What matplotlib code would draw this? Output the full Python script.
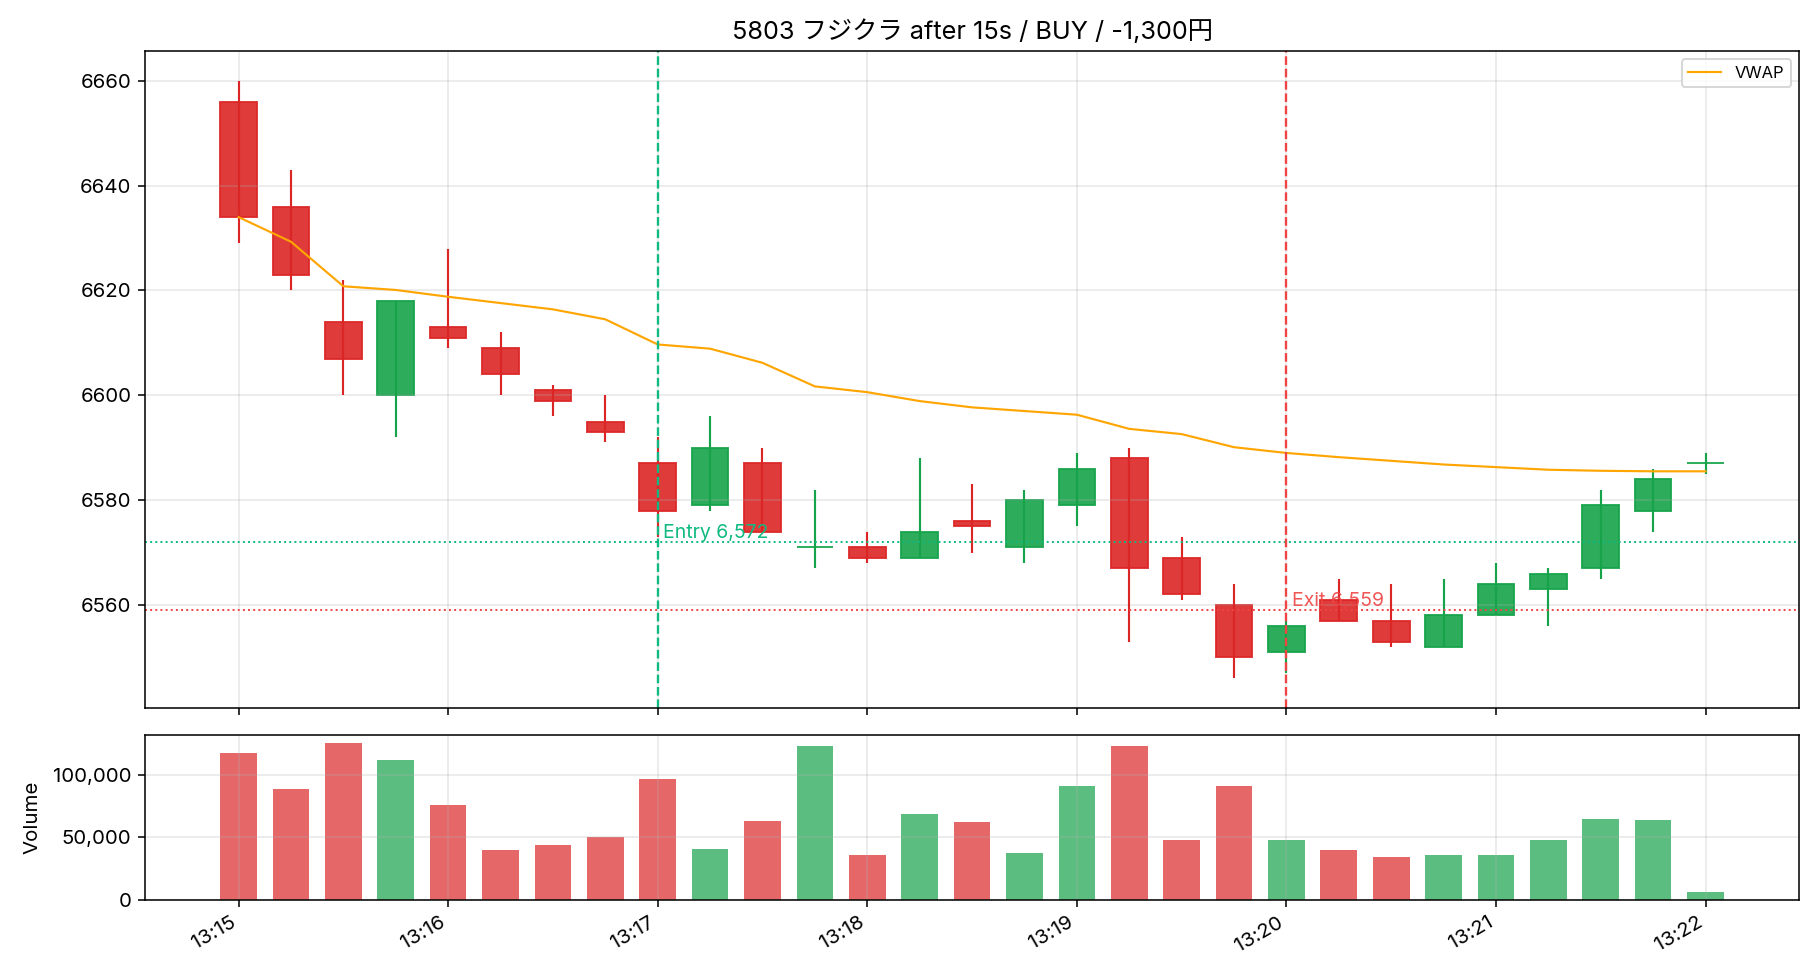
import matplotlib
matplotlib.use('Agg')
import matplotlib.pyplot as plt
import matplotlib.dates as mdates
from matplotlib.ticker import FuncFormatter
import numpy as np
import pandas as pd

plt.rcParams['font.family'] = ['Inter', 'Noto Sans CJK JP', 'DejaVu Sans']
plt.rcParams['xtick.labelsize'] = 10.5
plt.rcParams['ytick.labelsize'] = 10.5

# 15秒足
times = pd.date_range('2025-01-01 13:15:00', periods=29, freq='15s')
opens = [6656, 6636, 6614, 6600, 6613, 6609, 6601, 6595, 6587, 6579, 6587, 6571, 6571, 6569, 6576,
         6571, 6579, 6588, 6569, 6560, 6551, 6561, 6557, 6552, 6558, 6563, 6567, 6578, 6587]
highs = [6660, 6643, 6622, 6618, 6628, 6612, 6602, 6600, 6592, 6596, 6590, 6582, 6574, 6588, 6583,
         6582, 6589, 6590, 6573, 6564, 6557, 6565, 6564, 6565, 6568, 6567, 6582, 6586, 6589]
lows = [6629, 6620, 6600, 6592, 6609, 6600, 6596, 6591, 6573, 6578, 6574, 6567, 6568, 6569, 6570,
        6568, 6575, 6553, 6561, 6546, 6547, 6557, 6552, 6552, 6558, 6556, 6565, 6574, 6585]
closes = [6634, 6623, 6607, 6618, 6611, 6604, 6599, 6593, 6578, 6590, 6574, 6571, 6569, 6574, 6575,
          6580, 6586, 6567, 6562, 6550, 6556, 6557, 6553, 6558, 6564, 6566, 6579, 6584, 6587]
vwap = [6634.0, 6629.3, 6620.8, 6620.1, 6618.8, 6617.6, 6616.4, 6614.5, 6609.7, 6608.9, 6606.2,
        6601.7, 6600.6, 6598.9, 6597.7, 6597.0, 6596.3, 6593.6, 6592.6, 6590.1, 6589.0, 6588.2,
        6587.5, 6586.8, 6586.3, 6585.8, 6585.6, 6585.5, 6585.5]
volumes = [117800, 89400, 125900, 112200, 76500, 40000, 44000, 50500, 96800, 40800, 63500, 123500,
           35900, 69200, 62700, 37600, 91100, 123500, 48100, 91100, 48100, 40000, 34400, 36000,
           36000, 48100, 65100, 64300, 5900]

entry_time = pd.Timestamp('2025-01-01 13:17:00')
exit_time = pd.Timestamp('2025-01-01 13:20:00')
entry_price = 6572
exit_price = 6559
title = '5803 フジクラ after 15s / BUY / -1,300円'

UP = '#16a34a'
DOWN = '#dc2626'

x = mdates.date2num(times)
o = np.array(opens)
c = np.array(closes)
cols = [UP if cc >= oo else DOWN for oo, cc in zip(opens, closes)]
w = 15 / 86400 * 0.7

fig, (ax, axv) = plt.subplots(2, 1, figsize=(13, 7), dpi=140, sharex=True,
                              gridspec_kw={'height_ratios': [4, 1]})

ax.vlines(x, lows, highs, colors=cols, linewidth=1.1)
ax.bar(x, np.abs(c - o), bottom=np.minimum(o, c), width=w, color=cols, edgecolor=cols,
       linewidth=1, alpha=0.9)
ax.plot(x, vwap, color='orange', lw=1.1, label='VWAP')

ax.axvline(entry_time, color='#10b981', ls='--', lw=1.2)
ax.axhline(entry_price, color='#10b981', ls=':', lw=1.0)
ax.text(entry_time + pd.Timedelta(seconds=1.5), entry_price, f'Entry {entry_price:,}',
        color='#10b981', va='bottom', fontsize=10)
ax.axvline(exit_time, color='#ef4444', ls='--', lw=1.2)
ax.axhline(exit_price, color='#ef4444', ls=':', lw=1.0)
ax.text(exit_time + pd.Timedelta(seconds=1.5), exit_price, f'Exit {exit_price:,}',
        color='#ef4444', alpha=0.9, va='bottom', fontsize=10)

ax.set_title(title, fontsize=13)
ax.grid(True, alpha=0.3)
ax.legend(loc='upper right', fontsize=8.5)

axv.bar(x, volumes, width=w, color=cols, alpha=0.7)
axv.set_ylabel('Volume', fontsize=10.5, labelpad=6)
axv.grid(True, alpha=0.3)
axv.yaxis.set_major_formatter(FuncFormatter(lambda v, p: f'{int(v):,}'))
axv.xaxis.set_major_locator(mdates.MinuteLocator())
axv.xaxis.set_major_formatter(mdates.DateFormatter('%H:%M'))
fig.autofmt_xdate()
fig.subplots_adjust(left=0.0797, right=0.9885, top=0.948, bottom=0.082, hspace=0.066)

fig.savefig('out.png', dpi=140)
